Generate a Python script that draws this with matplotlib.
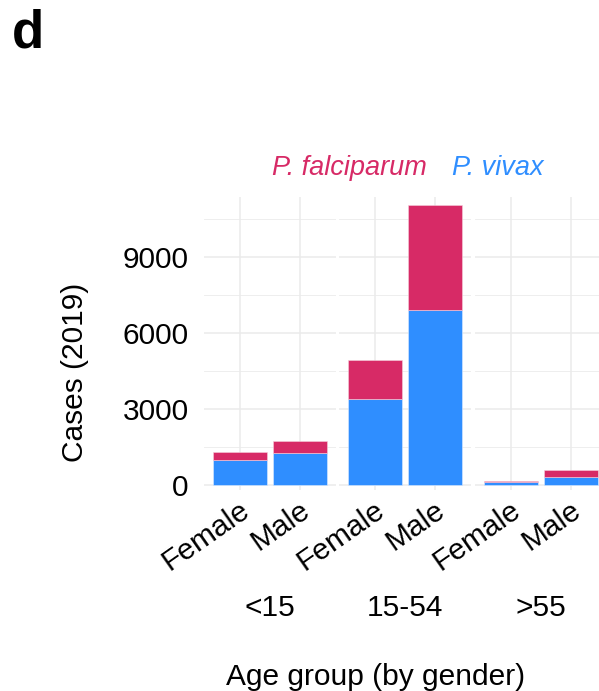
import matplotlib.pyplot as plt
import numpy as np
from matplotlib.ticker import MultipleLocator
import matplotlib.transforms as mtransforms

plt.rcParams['font.family'] = ['Liberation Sans', 'DejaVu Sans']

# Cases (2019) by age group and gender
age_groups = ['<15', '15-54', '>55']
genders = ['Female', 'Male']
vivax = {
    '<15': [990, 1260],
    '15-54': [3390, 6920],
    '>55': [120, 330],
}
falciparum = {
    '<15': [300, 480],
    '15-54': [1560, 4150],
    '>55': [55, 250],
}

col_vivax = '#2F8EFF'
col_falc = '#D72A66'
grid_col = '#EBEBEB'
fs = 21.5

W, H = 599, 691
fig = plt.figure(figsize=(W / 100, H / 100), dpi=100)

panel_left = [204, 339, 475]
panel_w = 132
bottom_px, top_px = 490, 197

for i, grp in enumerate(age_groups):
    ax = fig.add_axes([panel_left[i] / W, 1 - bottom_px / H,
                       panel_w / W, (bottom_px - top_px) / H])
    x = np.arange(len(genders))
    ax.bar(x, vivax[grp], width=0.9, color=col_vivax, edgecolor='#DDEBFF',
           linewidth=0.4, zorder=3)
    ax.bar(x, falciparum[grp], width=0.9, bottom=vivax[grp], color=col_falc,
           edgecolor='#F5D0DC', linewidth=0.4, zorder=3)
    ax.set_xlim(-0.6, 1.6)
    ax.set_ylim(-197, 11370)
    ax.yaxis.set_major_locator(MultipleLocator(3000))
    ax.yaxis.set_minor_locator(MultipleLocator(1500))
    ax.grid(axis='y', which='major', color=grid_col, linewidth=1.1, zorder=0)
    ax.grid(axis='y', which='minor', color=grid_col, linewidth=0.6, zorder=0)
    ax.grid(axis='x', which='major', color=grid_col, linewidth=1.1, zorder=0)
    for s in ax.spines.values():
        s.set_visible(False)
    ax.tick_params(length=0, labelsize=fs, pad=4)
    ax.tick_params(axis='y', which='both', length=0, pad=11)
    ax.set_xticks(x)
    ax.set_xticklabels(genders, rotation=35, ha='right', va='top',
                       rotation_mode='anchor')
    offset = mtransforms.ScaledTranslation(-1 / 100, 0, fig.dpi_scale_trans)
    for lab in ax.get_xticklabels():
        lab.set_transform(lab.get_transform() + offset)
    if i > 0:
        ax.tick_params(axis='y', labelleft=False)
    ax.text(0.5, 1 - 616 / H, grp, transform=mtransforms.blended_transform_factory(
        ax.transAxes, fig.transFigure), ha='center', va='baseline', fontsize=fs)

fig.text(75 / W, 1 - 372 / H, 'Cases (2019)', rotation=90, ha='center',
         va='center', fontsize=fs)
fig.text(376 / W, 1 - 685 / H, 'Age group (by gender)', ha='center',
         va='baseline', fontsize=fs)
fig.text(12 / W, 1 - 48 / H, 'd', fontsize=38, fontweight='bold', va='baseline')

fig.text(272 / W, 1 - 175 / H, 'P. falciparum', color=col_falc, style='italic',
         fontsize=19.5, va='baseline')
fig.text(452 / W, 1 - 175 / H, 'P. vivax', color=col_vivax, style='italic',
         fontsize=19.5, va='baseline')

fig.savefig('out.png', dpi=100)
